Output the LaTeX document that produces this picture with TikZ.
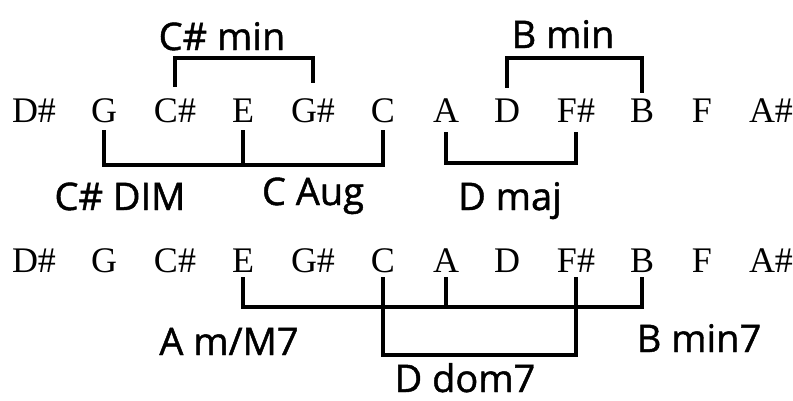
\documentclass[tikz,border=0pt]{standalone}
\usepackage{fontspec}
\setmainfont{Liberation Serif}
\newfontfamily\handfont[FakeBold=1.2]{Open Sans}
\begin{document}
\begin{tikzpicture}[x=1pt,y=-1pt,
  note/.style={font=\fontsize{36}{40}\selectfont, inner sep=0pt, text height=24pt, text depth=0pt, anchor=base},
  hand/.style={font=\handfont\fontsize{38}{44}\selectfont, inner sep=0pt, anchor=base},
  bracket/.style={line width=3.2pt}]
\useasboundingbox (0,0) rectangle (793,400);
% row 1
\node[note] (r1ds) at (34,122) {D\#};
\node[note] (r1g)  at (104,122) {G};
\node[note] (r1cs) at (175,122) {C\#};
\node[note] (r1e)  at (243,122) {E};
\node[note] (r1gs) at (313,122) {G\#};
\node[note] (r1c)  at (383,122) {C};
\node[note] (r1a)  at (446,122) {A};
\node[note] (r1d)  at (507,122) {D};
\node[note] (r1fs) at (576,122) {F\#};
\node[note] (r1b)  at (642,122) {B};
\node[note] (r1f)  at (702,122) {F};
\node[note] (r1as) at (771,122) {A\#};
% row 2
\node[note] (r2ds) at (34,272) {D\#};
\node[note] (r2g)  at (104,272) {G};
\node[note] (r2cs) at (175,272) {C\#};
\node[note] (r2e)  at (243,272) {E};
\node[note] (r2gs) at (313,272) {G\#};
\node[note] (r2c)  at (383,272) {C};
\node[note] (r2a)  at (446,272) {A};
\node[note] (r2d)  at (507,272) {D};
\node[note] (r2fs) at (576,272) {F\#};
\node[note] (r2b)  at (642,272) {B};
\node[note] (r2f)  at (702,272) {F};
\node[note] (r2as) at (771,272) {A\#};
% bar levels
\coordinate (b1) at (0,58);
\coordinate (b2) at (0,165);
\coordinate (b3) at (0,163);
\coordinate (b4) at (0,307);
\coordinate (b5) at (0,355);
% row 1 brackets
\draw[bracket] ([yshift=11pt]r1cs.north) -- (r1cs.north |- b1) -- (r1gs.north |- b1) -- ([yshift=15pt]r1gs.north);
\draw[bracket] ([yshift=10pt]r1d.north) -- (r1d.north |- b1) -- (r1b.north |- b1) -- ([yshift=5pt]r1b.north);
\draw[bracket] ([yshift=-8pt]r1g.south) -- (r1g.south |- b2) -- (r1c.south |- b2) -- ([yshift=-8pt]r1c.south);
\draw[bracket] ([yshift=-8pt]r1e.south) -- (r1e.south |- b2);
\draw[bracket] ([yshift=-10pt]r1a.south) -- (r1a.south |- b3) -- (r1fs.south |- b3) -- ([yshift=-10pt]r1fs.south);
% row 2 brackets
\draw[bracket] ([yshift=-5pt]r2e.south) -- (r2e.south |- b4) -- (r2b.south |- b4) -- ([yshift=-5pt]r2b.south);
\draw[bracket] ([yshift=-5pt]r2a.south) -- (r2a.south |- b4);
\draw[bracket] ([yshift=-5pt]r2c.south) -- (r2c.south |- b5) -- (r2fs.south |- b5) -- ([yshift=-5pt]r2fs.south);
% labels
\node[hand] (lcsmin) at (222,50) {C\# min};
\node[hand] (lbmin) at (563,48) {B min};
\node[hand] (lcsdim) at (120,210) {C\# DIM};
\node[hand] (lcaug) at (313,205) {C Aug};
\node[hand] (ldmaj) at (510,210) {D maj};
\node[hand] (lam) at (229,355) {A m/M7};
\node[hand] (lddom) at (465,392) {D dom7};
\node[hand] (lbmin7) at (699,352) {B min7};
\end{tikzpicture}
\end{document}
